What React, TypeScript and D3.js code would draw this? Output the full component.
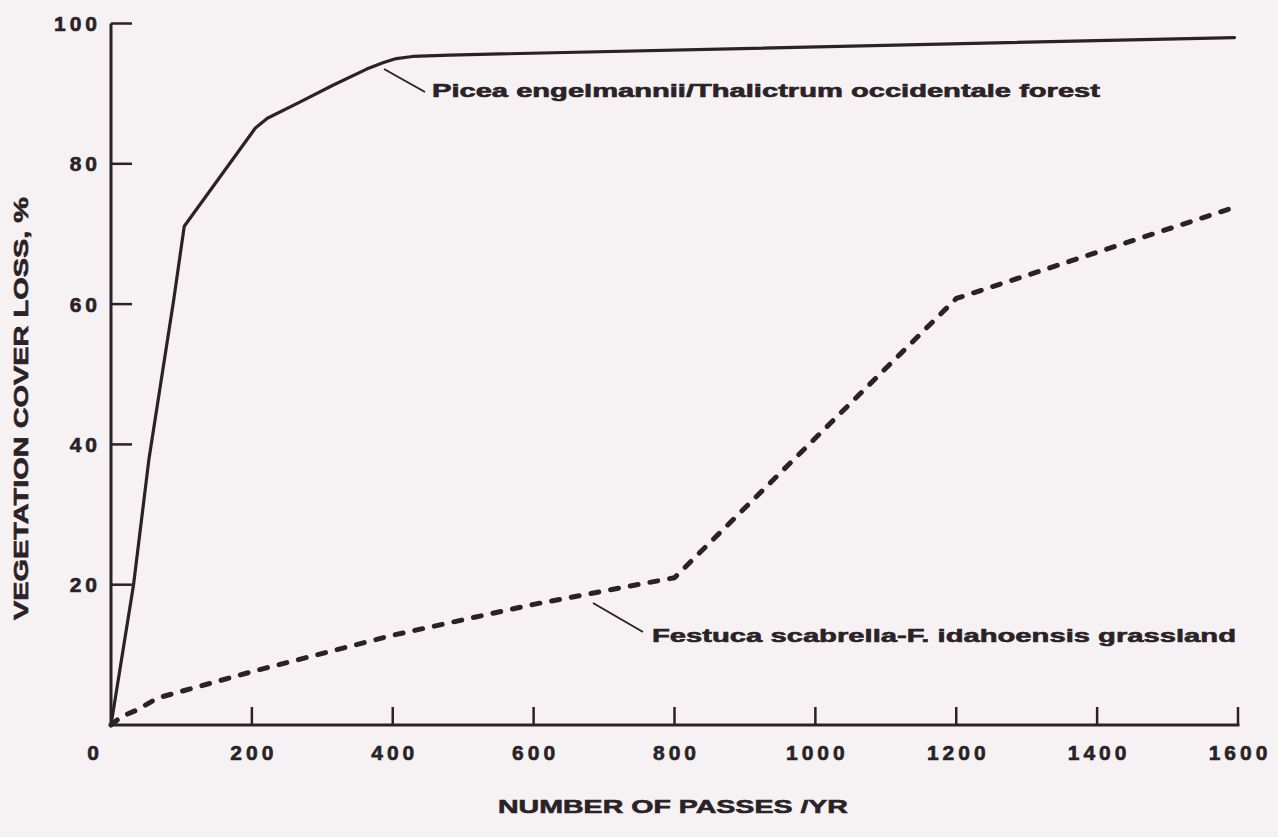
import React from "react";
import * as d3 from "d3";

// ---- data ----
const xTickValues = [0, 200, 400, 600, 800, 1000, 1200, 1400, 1600];
const yTickValues = [20, 40, 60, 80, 100];

const piceaPasses = [0, 32, 54, 89, 104, 205, 222, 268, 315, 363, 386, 405, 428, 481, 1595];
const piceaLoss = [0, 20, 38, 60.6, 71.1, 85.1, 86.5, 88.8, 91.2, 93.5, 94.4, 95.0, 95.3, 95.5, 98.0];

const festucaPasses = [0, 15, 36, 62, 75, 200, 400, 600, 800, 1200, 1595];
const festucaLoss = [0, 1.2, 2.1, 3.6, 4.1, 7.6, 12.8, 17.2, 21.0, 60.8, 73.8];

const piceaLabel = "Picea engelmannii/Thalictrum occidentale forest";
const festucaLabel = "Festuca scabrella-F. idahoensis grassland";
const xTitle = "NUMBER OF PASSES /YR";
const yTitle = "VEGETATION COVER LOSS, %";

const INK = "#2a2226";
const BG = "#f6f2f3";
const FONT = "'Liberation Sans', Arial, Helvetica, sans-serif";

export default function App() {
  const W = 1278;
  const H = 837;
  const x = d3.scaleLinear().domain([0, 1600]).range([111, 1238]);
  const y = d3.scaleLinear().domain([0, 100]).range([725, 23.5]);

  const line = d3
    .line<[number, number]>()
    .x((d) => x(d[0]))
    .y((d) => y(d[1]));

  const picea: [number, number][] = piceaPasses.map((p, i) => [p, piceaLoss[i]]);
  const festuca: [number, number][] = festucaPasses.map((p, i) => [p, festucaLoss[i]]);

  const heavy = { stroke: INK, strokeWidth: 0.6 };

  const tickStyle = {
    fontFamily: FONT,
    fontWeight: 700,
    fontSize: 21,
    letterSpacing: 4,
    fill: INK,
  } as React.CSSProperties;

  return (
    <svg
      width={W}
      height={H}
      viewBox={`0 0 ${W} ${H}`}
      style={{ position: "absolute", left: 0, top: 0, display: "block" }}
    >
      <rect x={0} y={0} width={W} height={H} fill={BG} />

      {/* axes */}
      <line x1={x(0)} x2={x(0)} y1={y(100)} y2={y(0) + 1.5} stroke={INK} strokeWidth={3} />
      <line x1={x(0) - 1.5} x2={x(1600) + 1.5} y1={y(0)} y2={y(0)} stroke={INK} strokeWidth={3} />

      {/* y ticks */}
      {yTickValues.map((v) => (
        <g key={"y" + v}>
          <line x1={x(0)} x2={x(0) + 21} y1={y(v)} y2={y(v)} stroke={INK} strokeWidth={2.5} />
          <text x={x(0) - 10} y={y(v) + 7.5} textAnchor="end" style={tickStyle} {...heavy}>
            {v}
          </text>
        </g>
      ))}

      {/* x ticks */}
      {xTickValues.map((v) => (
        <g key={"x" + v}>
          {v > 0 && (
            <line x1={x(v)} x2={x(v)} y1={y(0)} y2={y(0) - 18} stroke={INK} strokeWidth={2.5} />
          )}
          <text
            x={v === 0 ? x(v) - 16 : x(v) + 2}
            y={760}
            textAnchor="middle"
            style={tickStyle}
            {...heavy}
          >
            {v}
          </text>
        </g>
      ))}

      {/* series */}
      <path d={line(picea) || ""} fill="none" stroke={INK} strokeWidth={3.2} strokeLinejoin="round" strokeLinecap="round" />
      <path
        d={line(festuca) || ""}
        fill="none"
        stroke={INK}
        strokeWidth={5}
        strokeDasharray="8 12"
        strokeLinecap="round"
        strokeLinejoin="round"
      />

      {/* annotations */}
      <line x1={384} y1={69} x2={425} y2={92} stroke={INK} strokeWidth={2} />
      <text
        x={432}
        y={97}
        textLength={668}
        lengthAdjust="spacingAndGlyphs"
        style={{ fontFamily: FONT, fontWeight: 700, fontSize: 18, fill: INK }}
        {...heavy}
      >
        {piceaLabel}
      </text>

      <line x1={593} y1={603} x2={643} y2={632} stroke={INK} strokeWidth={2} />
      <text
        x={652}
        y={642}
        textLength={584}
        lengthAdjust="spacingAndGlyphs"
        style={{ fontFamily: FONT, fontWeight: 700, fontSize: 19, fill: INK }}
        {...heavy}
      >
        {festucaLabel}
      </text>

      {/* axis titles */}
      <text
        x={498}
        y={813}
        textLength={350}
        lengthAdjust="spacingAndGlyphs"
        style={{ fontFamily: FONT, fontWeight: 700, fontSize: 19, fill: INK }}
        {...heavy}
      >
        {xTitle}
      </text>
      <text
        transform={`translate(28, 620) rotate(-90)`}
        x={0}
        y={0}
        textLength={423}
        lengthAdjust="spacingAndGlyphs"
        style={{ fontFamily: FONT, fontWeight: 700, fontSize: 20, fill: INK }}
        {...heavy}
      >
        {yTitle}
      </text>
    </svg>
  );
}
